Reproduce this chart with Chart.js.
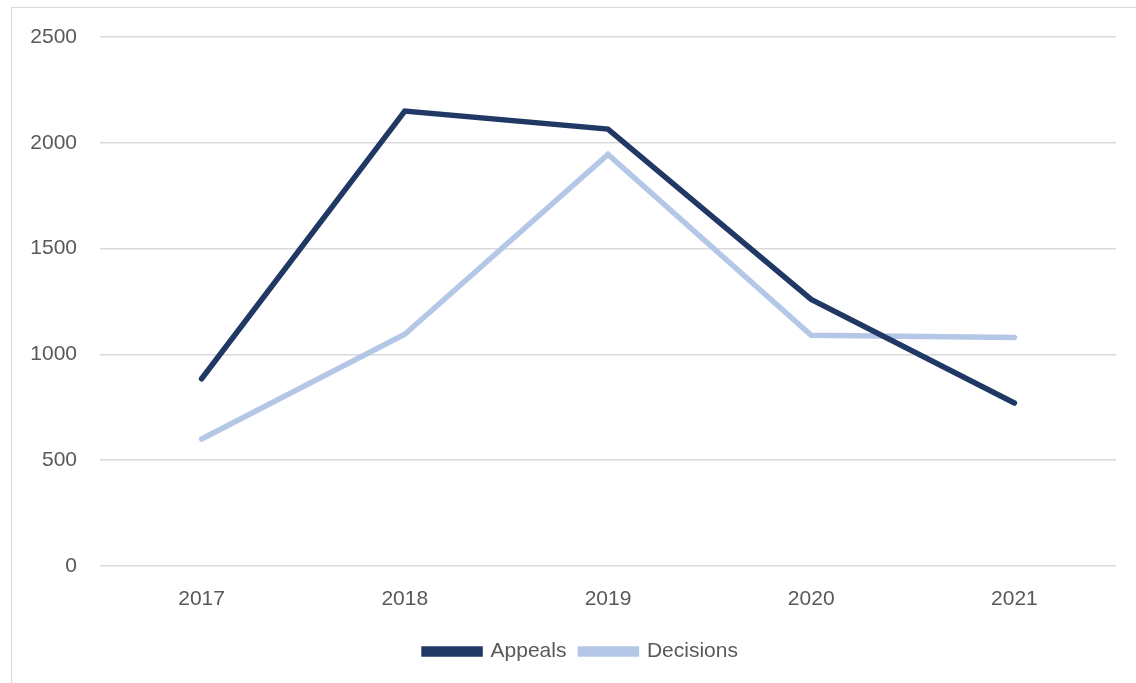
<!DOCTYPE html>
<html>
<head>
<meta charset="utf-8">
<script src="https://cdn.jsdelivr.net/npm/chart.js@4"></script>
<style>
  html, body { margin: 0; padding: 0; background: #fff; }
  #wrap { position: relative; width: 1136px; height: 683px; overflow: hidden; }
  #frame { position: absolute; left: 11px; top: 7px; width: 1200px; height: 760px; border: 1.5px solid #d9d9d9; box-sizing: border-box; }
  #chart { position: absolute; left: 0; top: 0; }
</style>
</head>
<body>
<div id="wrap">
  <div id="frame"></div>
  <canvas id="chart" width="1136" height="683"></canvas>
</div>
<script>
const years = ['2017', '2018', '2019', '2020', '2021'];
const appeals = [885, 2150, 2065, 1260, 770];
const decisions = [600, 1095, 1945, 1090, 1080];
const yTicks = [0, 500, 1000, 1500, 2000, 2500];

const textColor = '#595959';
const font = { family: "'Liberation Sans', Arial, sans-serif", size: 21 };

// nudge the legend a bit right, like the original
const legendShift = {
  id: 'legendShift',
  afterLayout(chart) {
    chart.legend.left += 23;
    chart.legend.right += 23;
  }
};

const ctx = document.getElementById('chart').getContext('2d');
const chart = new Chart(ctx, {
  type: 'line',
  data: {
    labels: years,
    datasets: [
      { label: 'Appeals', data: appeals, borderColor: '#203864', backgroundColor: '#203864',
        borderWidth: 5.5, pointRadius: 0, tension: 0, borderCapStyle: 'round', borderJoinStyle: 'miter' },
      { label: 'Decisions', data: decisions, borderColor: '#b4c7e7', backgroundColor: '#b4c7e7',
        borderWidth: 5.5, pointRadius: 0, tension: 0, borderCapStyle: 'round', borderJoinStyle: 'miter' }
    ]
  },
  options: {
    responsive: false,
    animation: false,
    layout: { padding: { top: 37, right: 20, left: 0, bottom: 11 } },
    plugins: {
      tooltip: { enabled: false },
      legend: {
        position: 'bottom',
        labels: {
          color: textColor,
          font: font,
          boxWidth: 56,
          boxHeight: 5,
          padding: 14
        }
      }
    },
    scales: {
      x: {
        offset: true,
        grid: { display: false },
        border: { display: false },
        ticks: { color: textColor, font: font, padding: 13 },
        afterFit: (s) => { s.height = 61; }
      },
      y: {
        min: 0,
        max: 2500,
        afterBuildTicks: (s) => { s.ticks = yTicks.map(v => ({ value: v })); },
        grid: { color: '#d9d9d9', lineWidth: 1.5, drawTicks: false },
        border: { display: false },
        ticks: { color: textColor, font: font, padding: 23, callback: (v) => String(v) },
        afterFit: (s) => { s.width = 100; }
      }
    }
  },
  plugins: [legendShift]
});
</script>
</body>
</html>
